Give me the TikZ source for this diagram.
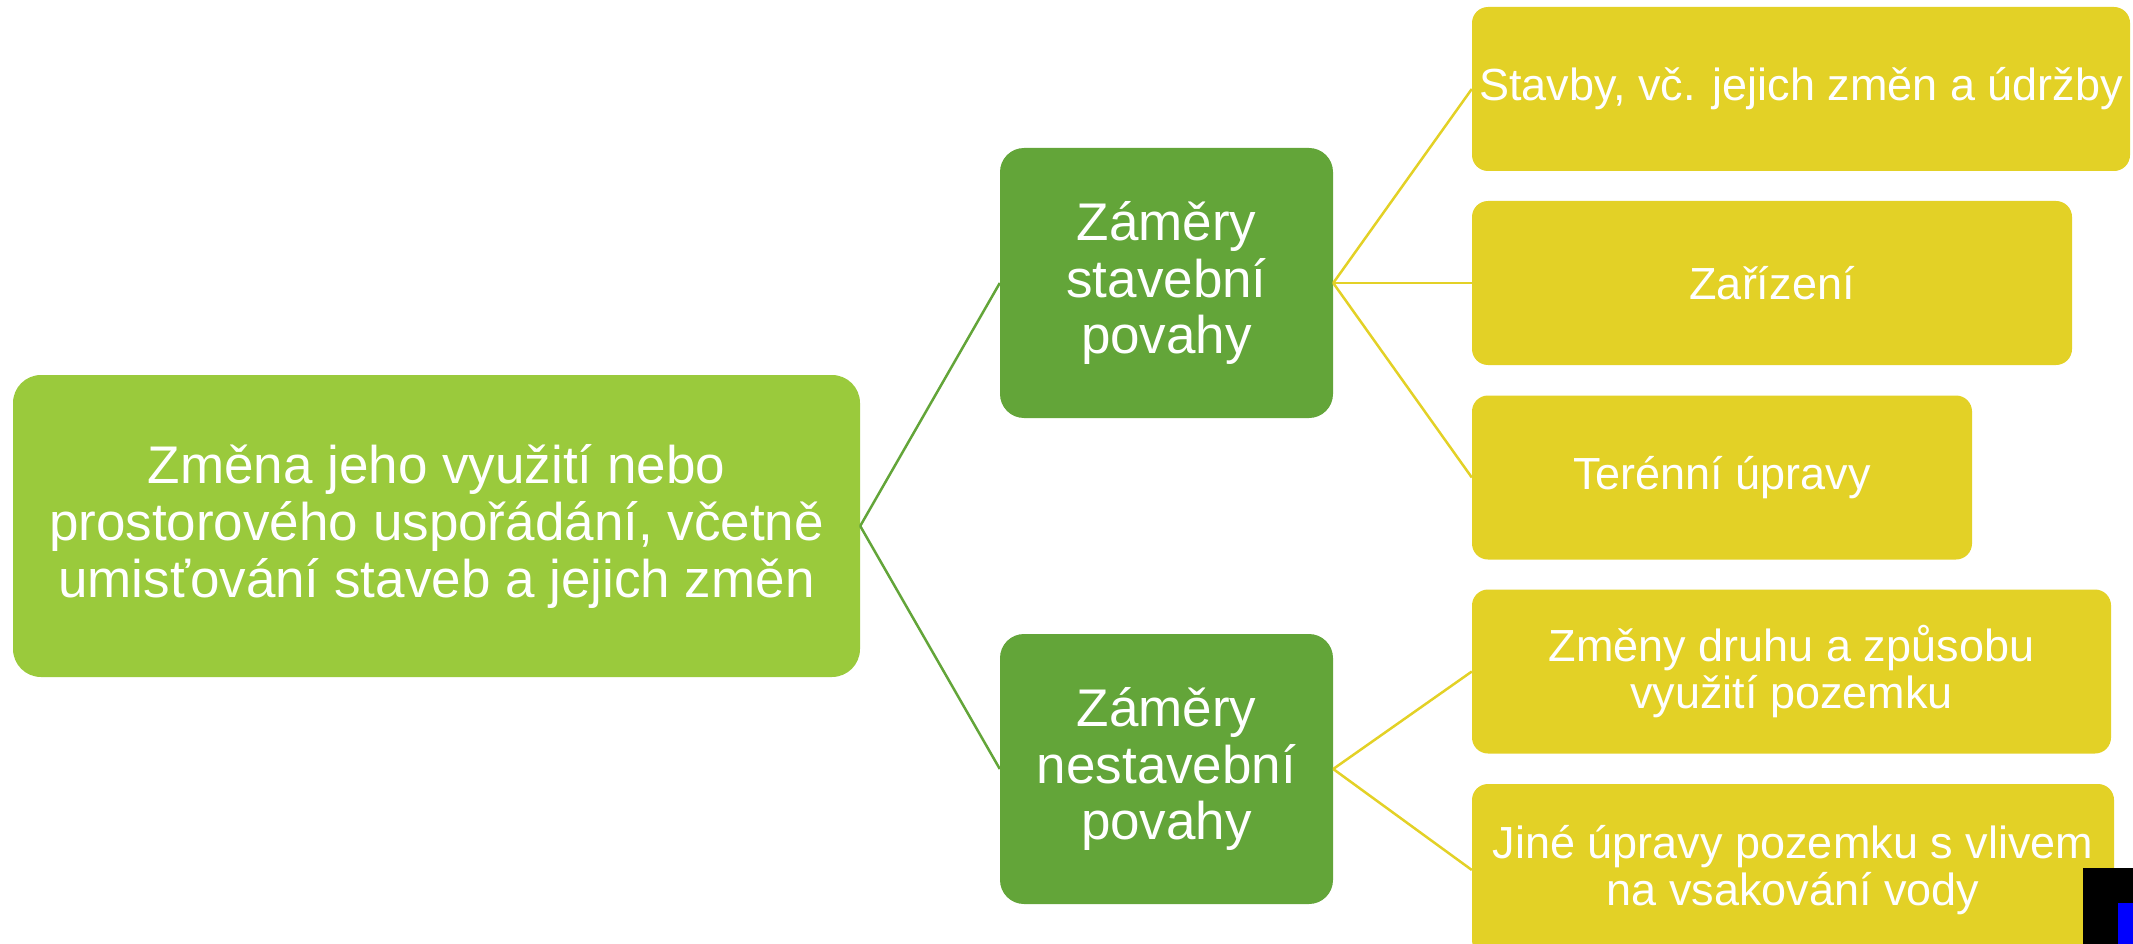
\documentclass[tikz,border=0pt]{standalone}
\usepackage{fontspec}
\setmainfont{Liberation Sans}
\usepackage{xcolor}
\usetikzlibrary{positioning, calc}
\definecolor{rootgreen}{RGB}{154, 202, 60}
\definecolor{darkgreen}{RGB}{99, 165, 57}
\definecolor{leafyellow}{RGB}{227, 209, 38}

\begin{document}
\begin{tikzpicture}[x=1pt, y=-1pt,
    rootbox/.style={rectangle, rounded corners=28pt, fill=rootgreen,
                    text=white, align=center, inner sep=0pt,
                    font=\fontsize{53}{57}\selectfont},
    groupbox/.style={rectangle, rounded corners=24pt, fill=darkgreen,
                     text=white, align=center, inner sep=0pt,
                     minimum width=333pt, minimum height=270pt,
                     font=\fontsize{53}{56.5}\selectfont},
    leafbox/.style={rectangle, rounded corners=16pt, fill=leafyellow,
                    text=white, align=center, inner sep=0pt,
                    minimum height=164pt,
                    font=\fontsize{45}{47}\selectfont},
    glink/.style={darkgreen, line width=2.5pt},
    ylink/.style={leafyellow, line width=2.5pt}
  ]
  \useasboundingbox (0,0) rectangle (2133,944);

  % Root
  \node[rootbox, minimum width=847pt, minimum height=302pt] (root) at (436.5, 526)
    {Změna jeho využití nebo\\prostorového uspořádání, včetně\\umisťování staveb a jejich změn};

  % Groups
  \node[groupbox] (stav)   at (1166.5, 283) {Záměry\\stavební\\povahy};
  \node[groupbox] (nestav) at (1166.5, 769) {Záměry\\nestavební\\povahy};

  % Leaves
  \node[leafbox, minimum width=658pt] (stavby)   at (1801, 89)    {Stavby, vč. jejich změn a údržby};
  \node[leafbox, minimum width=600pt] (zarizeni) at (1772, 283)   {Zařízení};
  \node[leafbox, minimum width=500pt] (teren)    at (1722, 477.5) {Terénní úpravy};
  \node[leafbox, minimum width=639pt] (druh)     at (1791.5, 671.5) {Změny druhu a způsobu\\využití pozemku};
  \node[leafbox, minimum width=642pt, minimum height=172pt] (jine) at (1793, 870)
    {Jiné úpravy pozemku s vlivem\\na vsakování vody};

  % Edges: root -> groups
  \draw[glink] (root.east) -- (stav.west);
  \draw[glink] (root.east) -- (nestav.west);

  % Edges: groups -> leaves
  \draw[ylink] (stav.east) -- (stavby.west);
  \draw[ylink] (stav.east) -- (zarizeni.west);
  \draw[ylink] (stav.east) -- (teren.west);
  \draw[ylink] (nestav.east) -- (druh.west);
  \draw[ylink] (nestav.east) -- (jine.west);

  % Corner patch
  \fill[black] (2083, 868) rectangle (2133, 944);
  \fill[blue] (2118, 903) rectangle (2133, 944);

\end{tikzpicture}
\end{document}
